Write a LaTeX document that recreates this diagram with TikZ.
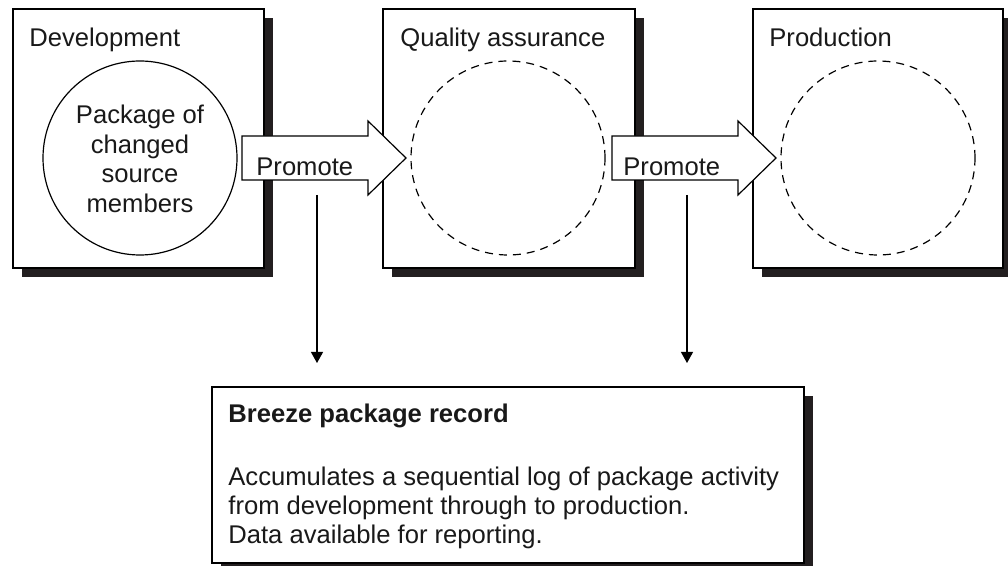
\documentclass[tikz,border=0pt]{standalone}
\usepackage{fontspec}
\setmainfont{Liberation Sans}
\usetikzlibrary{arrows.meta}
\definecolor{shadowc}{HTML}{231F20}
\begin{document}
\begin{tikzpicture}[x=0.5pt,y=-0.5pt,
  boxst/.style={draw=black, line width=0.6pt, fill=white},
  shadowst/.style={fill=shadowc},
  lbl/.style={font=\fontsize{12.8}{14.75}\selectfont, inner sep=0pt, text=black!90},
  blockarrow/.style={draw=black, line width=0.6pt, fill=white, line join=miter},
  dashcirc/.style={draw=black, line width=0.6pt, dash pattern=on 4pt off 3pt},
  feed/.style={draw=black, line width=0.6pt, -{Triangle[width=6pt,length=5.5pt]}}]
\useasboundingbox (0,0) rectangle (1008,566);
% shadows
\fill[shadowst] (22,18) rectangle (273,277);
\fill[shadowst] (392,18) rectangle (644,277);
\fill[shadowst] (762,18) rectangle (1012,277);
\fill[shadowst] (221,396) rectangle (813,572);
% boxes
\draw[boxst] (13,9) rectangle (264,268);
\draw[boxst] (383,9) rectangle (635,268);
\draw[boxst] (753,9) rectangle (1003,268);
\draw[boxst] (212,387) rectangle (804,563);
% circles
\node[draw=black, line width=0.6pt, circle, minimum size=97pt, inner sep=0pt] (pkg) at (140,158) {};
\node[dashcirc, circle, minimum size=97pt, inner sep=0pt] (qac) at (508,158) {};
\node[dashcirc, circle, minimum size=97pt, inner sep=0pt] (prc) at (878,158) {};
% block arrows
\draw[blockarrow] (242,136) -- (368,136) -- (368,121) -- (406,158) -- (368,195) -- (368,180) -- (242,180) -- cycle;
\draw[blockarrow] (612,136) -- (738,136) -- (738,121) -- (776,158) -- (738,195) -- (738,180) -- (612,180) -- cycle;
% labels
\node[lbl, anchor=base west] (devl) at (29,47) {Development};
\node[lbl, anchor=base west] (qal) at (400,47) {Quality assurance};
\node[lbl, anchor=base west] (prl) at (769,47) {Production};
\node[lbl, align=center] (pkgt) at (140,159) {Package of\\changed\\source\\members};
\node[lbl, anchor=base west] (pr1) at (256,176) {Promote};
\node[lbl, anchor=base west] (pr2) at (623,176) {Promote};
% feed arrows
\coordinate (s1) at (317,195);
\coordinate (e1) at (317,363);
\coordinate (s2) at (687,195);
\coordinate (e2) at (687,363);
\draw[feed] (s1) -- (e1);
\draw[feed] (s2) -- (e2);
% record text
\node[lbl, anchor=base west, font=\fontsize{12.8}{14.75}\selectfont\bfseries] (rect) at (228,423) {Breeze package record};
\node[lbl, anchor=base west] (l1) at (228,486) {Accumulates a sequential log of package activity};
\node[lbl, anchor=base west] (l2) at (228,515) {from development through to production.};
\node[lbl, anchor=base west] (l3) at (228,544) {Data available for reporting.};
\end{tikzpicture}
\end{document}
